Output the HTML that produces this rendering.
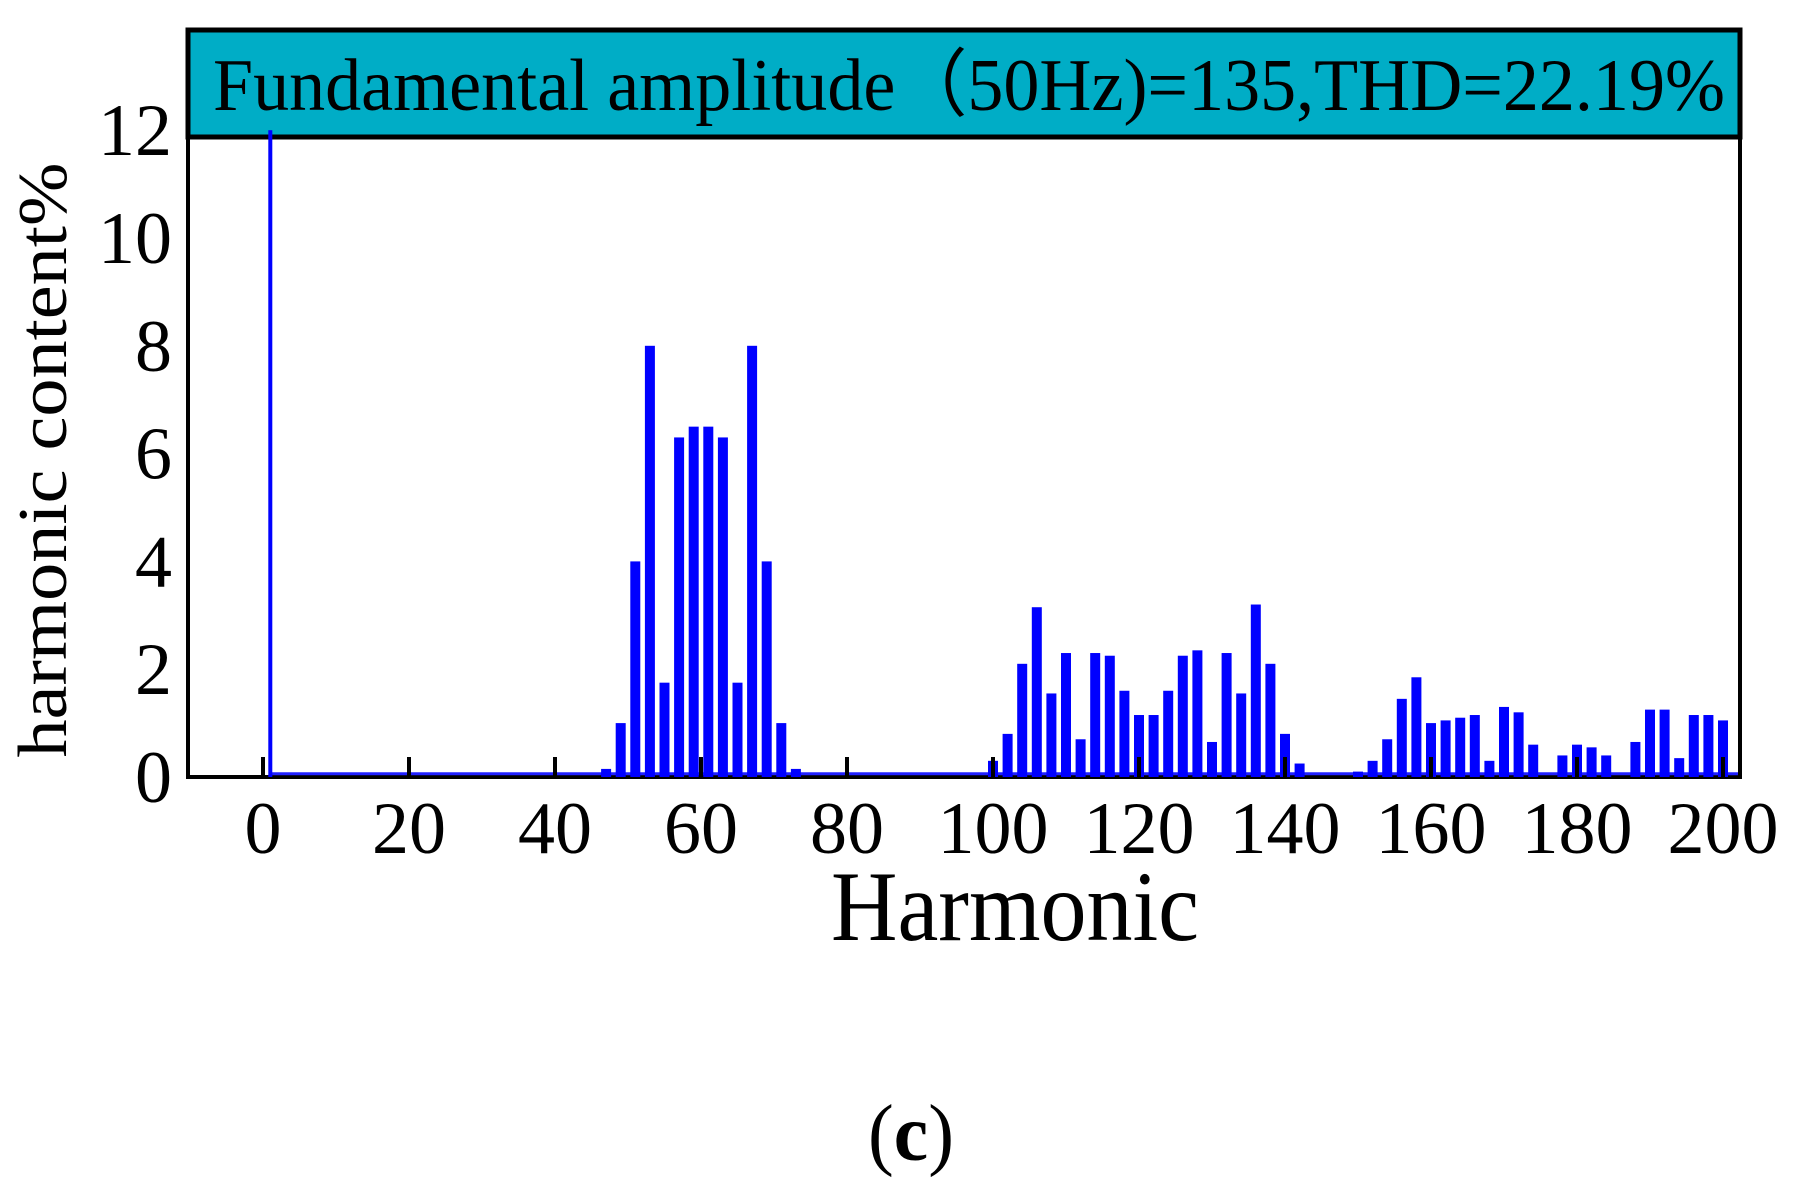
<!DOCTYPE html>
<html><head><meta charset="utf-8"><style>body{margin:0;background:#fff}svg{display:block}text{font-family:"Liberation Serif",serif;fill:#000}</style></head>
<body>
<svg id="chart" width="1799" height="1189" viewBox="0 0 1799 1189" xmlns="http://www.w3.org/2000/svg">
<rect x="188" y="30" width="1552" height="107" fill="#00adc6" stroke="#000" stroke-width="5"/>
<text x="213" y="110" font-size="74" textLength="1512" lengthAdjust="spacingAndGlyphs">Fundamental amplitude（50Hz)=135,THD=22.19%</text>
<rect x="188" y="137" width="1552" height="640" fill="none" stroke="#000" stroke-width="4"/>
<g id="bars"></g>
<g id="axes"></g>
<text transform="translate(66,460) rotate(-90)" text-anchor="middle" font-size="70" textLength="595" lengthAdjust="spacingAndGlyphs">harmonic content%</text>
<text x="1015" y="940" text-anchor="middle" font-size="100" textLength="368" lengthAdjust="spacingAndGlyphs">Harmonic</text>
<text x="911" y="1160" text-anchor="middle" font-size="80" textLength="86" lengthAdjust="spacingAndGlyphs">(<tspan font-weight="bold">c</tspan>)</text>
</svg>
<script>
const harmonics=[1,47,49,51,53,55,57,59,61,63,65,67,69,71,73,
100,102,104,106,108,110,112,114,116,118,120,122,124,126,128,130,132,134,136,138,140,142,
150,152,154,156,158,160,162,164,166,168,170,172,174,178,180,182,184,188,190,192,194,196,198,200];
const values=[12,0.15,1.0,4,8,1.75,6.3,6.5,6.5,6.3,1.75,8,4,1.0,0.15,
0.3,0.8,2.1,3.15,1.55,2.3,0.7,2.3,2.25,1.6,1.15,1.15,1.6,2.25,2.35,0.65,2.3,1.55,3.2,2.1,0.8,0.25,
0.1,0.3,0.7,1.45,1.85,1.0,1.05,1.1,1.15,0.3,1.3,1.2,0.6,0.4,0.6,0.55,0.4,0.65,1.25,1.25,0.35,1.15,1.15,1.05];
const xTicks=[0,20,40,60,80,100,120,140,160,180,200];
const yTicks=[0,2,4,6,8,10,12];
const NS='http://www.w3.org/2000/svg';
const x=v=>263+v*7.3;
const y=v=>777-v*53.9;
const bars=document.getElementById('bars');
const axes=document.getElementById('axes');
function mk(tag,attrs,parent){const e=document.createElementNS(NS,tag);for(const k in attrs)e.setAttribute(k,attrs[k]);parent.appendChild(e);return e;}
const base=mk('line',{x1:x(1),x2:1738,y1:y(0.06),y2:y(0.06),stroke:'#2020ff','stroke-width':3},bars);


harmonics.forEach((h,i)=>{
  const w=h===1?4:10;
  const r=mk('rect',{x:x(h)-w/2,y:y(values[i]),width:w,height:y(0)-y(values[i]),fill:'#0000ff'},bars);
  
  
});
xTicks.forEach(t=>{
  const l=mk('line',{x1:x(t),x2:x(t),y1:777,y2:757,stroke:'#000','stroke-width':4},axes);
  
  
  const tx=mk('text',{x:x(t),y:853,'text-anchor':'middle','font-size':74},axes);
  tx.textContent=t;
  
  
});
yTicks.forEach(t=>{
  const tx=mk('text',{x:172,y:y(t)+25,'text-anchor':'end','font-size':74},axes);
  tx.textContent=t;
  
  
});
</script>
</body></html>
